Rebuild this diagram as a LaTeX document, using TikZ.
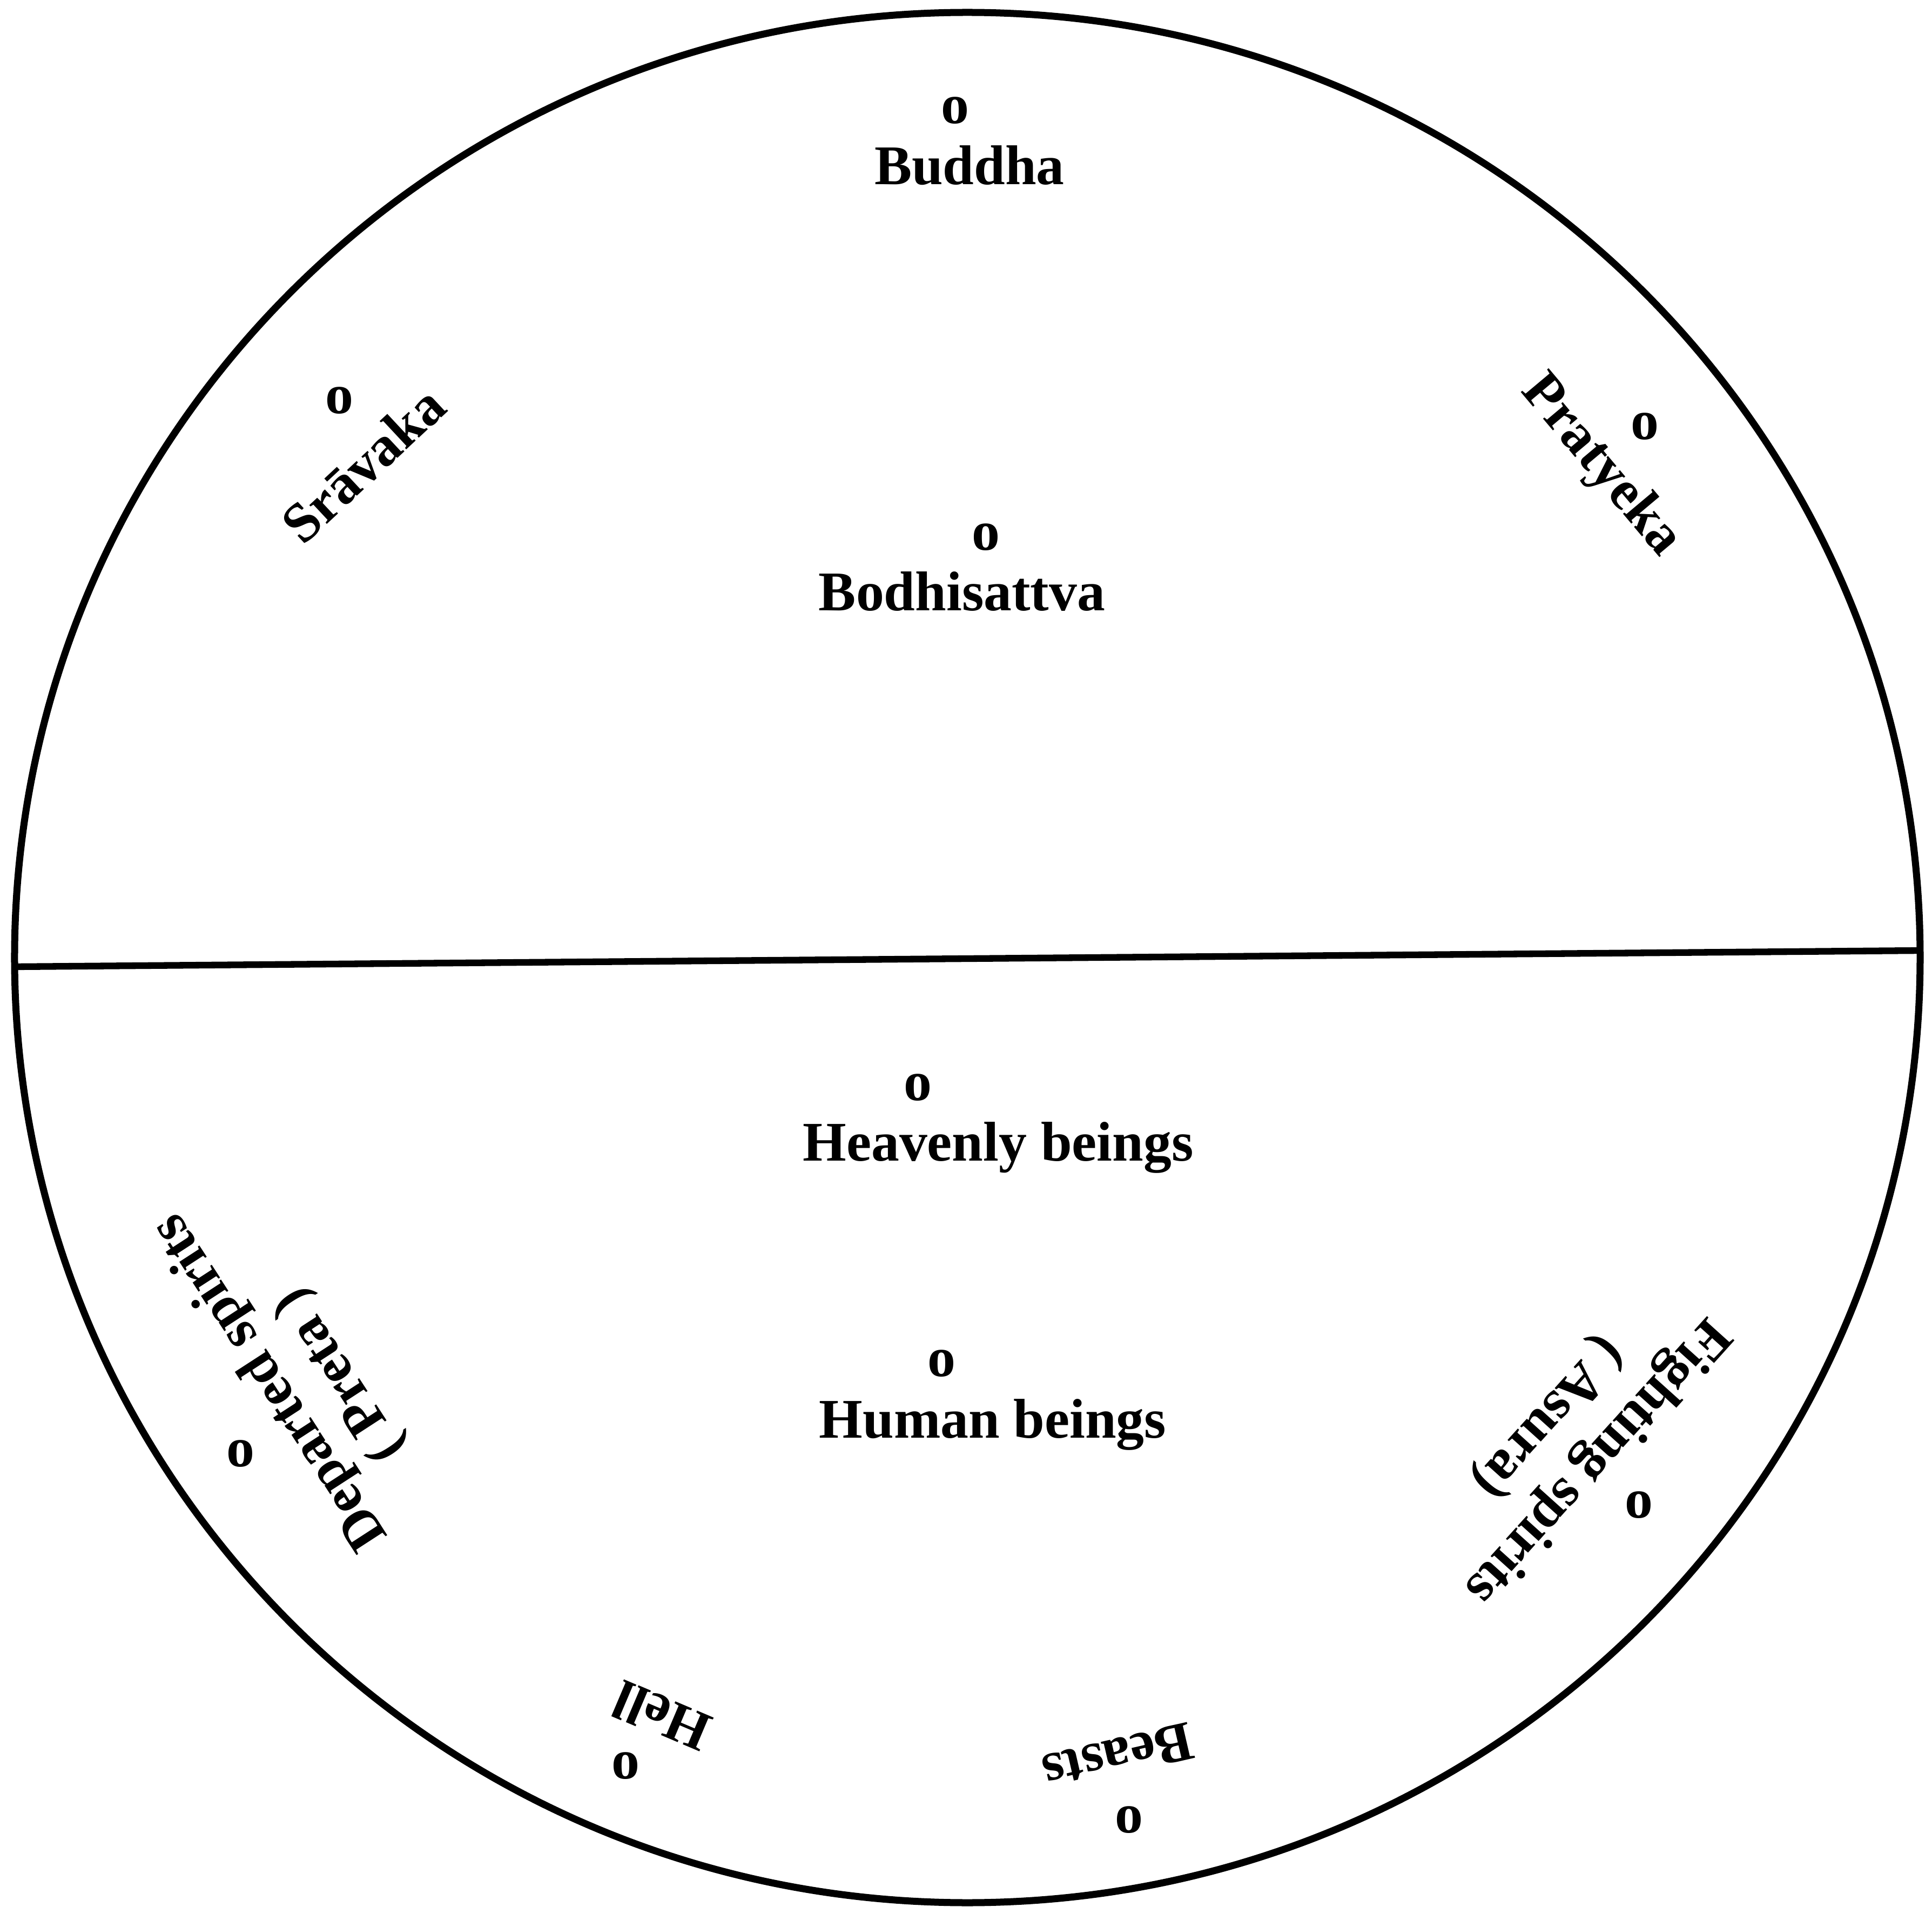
\documentclass[tikz,border=0pt]{standalone}
\usepackage{fontspec}
\setmainfont{Liberation Serif}
\usepackage{tikz}
\usetikzlibrary{positioning}

\begin{document}
\begin{tikzpicture}[font=\fontsize{29.5}{34}\selectfont\bfseries,
        lbl/.style={inner sep=0pt},
        seat/.style={inner sep=0pt},
        rim/.style={line width=3.7pt}]
  \useasboundingbox (-17.91,-17.57) rectangle (17.86,17.73);
  \draw[rim] (0,0) ellipse [x radius=17.64, y radius=17.50];
  \coordinate (west) at (-17.64,-0.17);
  \coordinate (east) at (17.64,0.13);
  \draw[line width=3.5pt] (west) -- (east);
  % upper half
  \node[seat] (buddha-o) at (-0.23,15.68) {o};
  \node[lbl, anchor=base] (buddha) at (0.04,14.31) {Buddha};
  \node[seat] (bodhi-o) at (0.34,7.78) {o};
  \node[lbl, anchor=base] (bodhi) at (-0.10,6.42) {Bodhisattva};
  \node[seat] (srav-o) at (-11.63,10.31) {o};
  \node[lbl, rotate=43] (srav) at (-11.19,9.13) {Srāvaka};
  \node[seat] (prat-o) at (12.54,9.83) {o};
  \node[lbl, rotate=-50] (prat) at (11.72,9.10) {Pratyeka};
  % lower half
  \node[seat] (heaven-o) at (-0.92,-2.41) {o};
  \node[lbl, anchor=base] (heaven) at (0.57,-3.76) {Heavenly beings};
  \node[seat] (human-o) at (-0.48,-7.52) {o};
  \node[lbl, anchor=base] (human) at (0.47,-8.89) {Human beings};
  \node[seat] (preta-o) at (-13.46,-9.19) {o};
  \node[lbl, rotate=123] (preta) at (-12.89,-7.84) {Departed spirits};
  \node[lbl, rotate=123] (preta2) at (-11.60,-7.72) {( Preta )};
  \node[seat] (asura-o) at (12.43,-10.14) {o};
  \node[lbl, rotate=228] (asura) at (11.63,-9.30) {Fighting spirits};
  \node[lbl, rotate=228] (asura2) at (10.74,-8.50) {( Asura)};
  \node[seat] (hell-o) at (-6.33,-14.97) {o};
  \node[lbl, rotate=157] (hell) at (-5.66,-14.05) {Hell};
  \node[seat] (beast-o) at (2.99,-15.97) {o};
  \node[lbl, rotate=193] (beast) at (2.79,-14.80) {Beasts};
\end{tikzpicture}
\end{document}
